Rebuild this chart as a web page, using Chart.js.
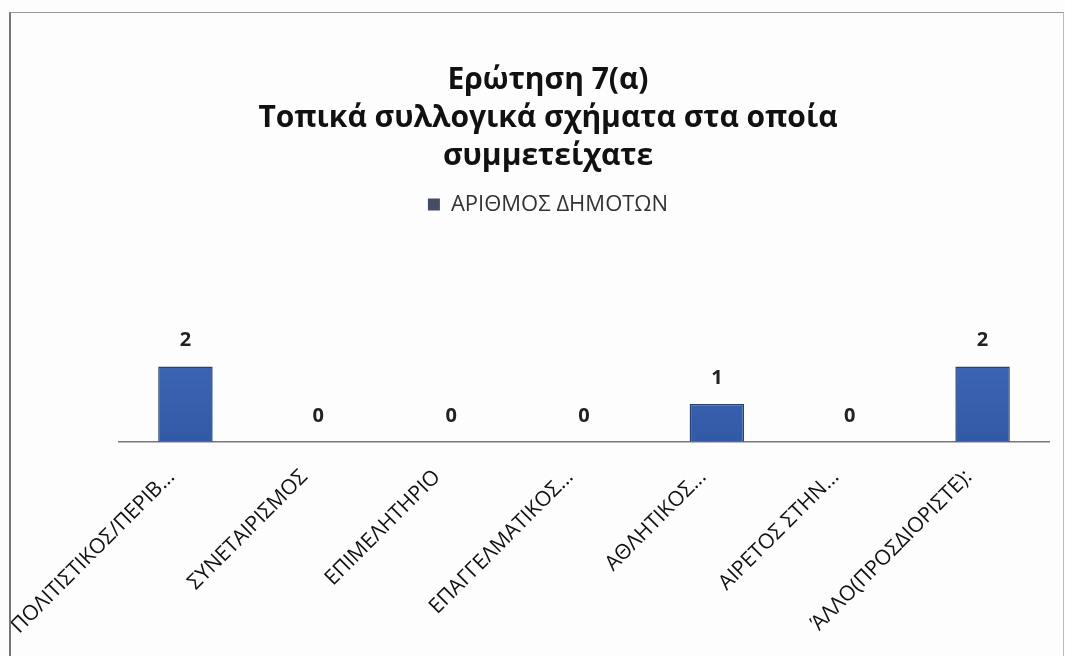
<!DOCTYPE html>
<html><head><meta charset="utf-8">
<script src="https://cdn.jsdelivr.net/npm/chart.js@4.4.0/dist/chart.umd.min.js"></script>
<style>
html,body{margin:0;padding:0;background:#fff;}
#wrap{position:absolute;left:0;top:0;width:1065px;height:656px;background:#fdfdfd;}
#frame{position:absolute;left:9px;top:12px;width:1052px;height:660px;border-left:2px solid #777;border-top:1px solid #999;border-right:1px solid #bbb;pointer-events:none;}
</style></head>
<body><div id="wrap"><canvas id="c" width="1065" height="656"></canvas><div id="frame"></div></div>
<script>
const titleLines = ['Ερώτηση 7(α)', 'Τοπικά συλλογικά σχήματα στα οποία', 'συμμετείχατε'];
const seriesName = 'ΑΡΙΘΜΟΣ ΔΗΜΟΤΩΝ';
const categories = ['ΠΟΛΙΤΙΣΤΙΚΟΣ/ΠΕΡΙΒ...', 'ΣΥΝΕΤΑΙΡΙΣΜΟΣ', 'ΕΠΙΜΕΛΗΤΗΡΙΟ', 'ΕΠΑΓΓΕΛΜΑΤΙΚΟΣ...', 'ΑΘΛΗΤΙΚΟΣ...', 'ΑΙΡΕΤΟΣ ΣΤΗΝ...', 'ΆΛΛΟ(ΠΡΟΣΔΙΟΡΙΣΤΕ):'];
const values = [2, 0, 0, 0, 1, 0, 2];

const valueLabels = {
  id: 'valueLabels',
  afterDatasetsDraw(chart) {
    const ctx = chart.ctx;
    const meta = chart.getDatasetMeta(0);
    ctx.save();
    ctx.font = 'bold 20px "Open Sans"';
    ctx.fillStyle = '#222';
    ctx.textAlign = 'center';
    ctx.textBaseline = 'alphabetic';
    meta.data.forEach((bar, i) => {
      const v = chart.data.datasets[0].data[i];
      ctx.fillText(String(v), bar.x, bar.y - 20);
    });
    ctx.restore();
  }
};

function barFill(context) {
  const area = context.chart.chartArea;
  if (!area) return '#3d64b0';
  const g = context.chart.ctx.createLinearGradient(0, area.top, 0, area.bottom);
  g.addColorStop(0, '#4f7bcb');
  g.addColorStop(1, '#3259a6');
  return g;
}

new Chart(document.getElementById('c'), {
  type: 'bar',
  data: {
    labels: categories,
    datasets: [{
      label: seriesName,
      data: values,
      backgroundColor: barFill,
      borderColor: '#26407a',
      borderWidth: 1.5,
      categoryPercentage: 1,
      barPercentage: 0.41
    }]
  },
  options: {
    responsive: false,
    animation: false,
    layout: { padding: { top: 52, left: 47, right: 16, bottom: 2 } },
    plugins: {
      title: {
        display: true,
        text: titleLines,
        color: '#111',
        font: { family: '"Open Sans"', size: 30, weight: 'bold', lineHeight: 1.26 },
        padding: { top: 10, bottom: 8 }
      },
      legend: {
        display: true,
        labels: {
          color: '#333',
          font: { family: '"Open Sans"', size: 22 },
          boxWidth: 12, boxHeight: 12, padding: 10,
          generateLabels(chart) {
            return [{ text: seriesName, fillStyle: '#474c66', strokeStyle: '#474c66', lineWidth: 0, datasetIndex: 0, hidden: false, fontColor: '#333' }];
          }
        }
      },
      tooltip: { enabled: false }
    },
    scales: {
      x: {
        grid: { display: false },
        border: { display: true, color: '#777', width: 1.5 },
        ticks: {
          color: '#111',
          font: { family: '"Open Sans"', size: 21 },
          maxRotation: 45, minRotation: 45, autoSkip: false,
          padding: 15, labelOffset: -14
        }
      },
      y: {
        display: true,
        min: 0, max: 5.75,
        grid: { display: false },
        border: { display: false },
        ticks: { display: false },
        afterFit(scale) { scale.width = 72; }
      }
    }
  },
  plugins: [valueLabels]
});
</script>
</body></html>
